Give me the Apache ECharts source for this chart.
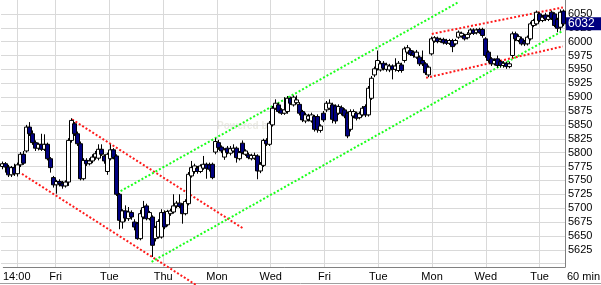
<!DOCTYPE html>
<html><head><meta charset="utf-8">
<script src="https://cdn.jsdelivr.net/npm/echarts@6/dist/echarts.min.js"></script>
<style>html,body{margin:0;padding:0;background:#fff}#c{width:601px;height:285px}</style>
</head><body><div id="c"></div>
<script>
// ---- data (hourly bars) ----
const opens = [5775,5780,5774,5760,5773,5762,5778,5797,5803,5846,5834,5818,5808,5815,5806,5815,5789,5755,5742,5748,5744,5740,5747,5822,5852,5834,5816,5753,5786,5780,5785,5792,5790,5806,5794,5766,5789,5805,5794,5725,5675,5695,5681,5692,5675,5672,5645,5684,5704,5681,5684,5645,5648,5648,5692,5670,5690,5693,5704,5709,5706,5690,5708,5758,5766,5772,5766,5772,5779,5778,5779,5801,5818,5810,5792,5808,5799,5803,5808,5789,5817,5797,5796,5789,5790,5794,5767,5777,5822,5815,5850,5880,5886,5877,5871,5874,5898,5886,5890,5887,5874,5857,5860,5857,5865,5865,5840,5871,5877,5880,5886,5884,5871,5881,5877,5871,5842,5866,5871,5863,5868,5883,5868,5898,5940,5951,5949,5961,5950,5949,5956,5950,5948,5958,5966,5981,5984,5981,5972,5972,5966,5960,5940,5978,6001,6006,6001,6004,6002,5997,6002,5996,6008,6010,6011,6007,6015,6021,6016,6022,6022,6005,5981,5969,5960,5969,5964,5957,5961,5955,5975,6014,6002,6005,6000,5996,6005,6029,6032,6050,6038,6048,6040,6053,6050,6040,6026,6055];
const closes = [5780,5774,5760,5773,5762,5778,5797,5781,5846,5834,5818,5808,5815,5806,5815,5789,5773,5742,5748,5744,5740,5747,5822,5858,5834,5816,5753,5786,5780,5785,5792,5798,5806,5797,5785,5797,5805,5791,5725,5678,5695,5682,5693,5684,5666,5645,5690,5701,5681,5692,5633,5665,5676,5692,5666,5694,5695,5704,5709,5703,5690,5712,5761,5773,5776,5766,5776,5779,5772,5770,5755,5820,5809,5803,5805,5800,5807,5808,5791,5800,5800,5803,5791,5795,5795,5767,5779,5822,5816,5853,5880,5889,5874,5871,5877,5898,5889,5900,5895,5871,5859,5868,5866,5868,5842,5841,5848,5859,5889,5889,5860,5857,5883,5871,5866,5830,5874,5874,5862,5870,5880,5868,5916,5934,5951,5966,5960,5952,5958,5956,5950,5956,5961,5948,5987,5989,5977,5975,5981,5960,5960,5944,5954,6005,6007,6000,6004,5998,5997,6002,5991,6002,6017,6015,6005,6013,6021,6015,6021,6017,6011,5975,5966,5960,5966,5957,5957,5961,5955,5960,6014,6005,6009,5996,5996,6008,6032,6038,6053,6038,6044,6041,6045,6042,6029,6024,6053,6032];
const lows = [5770,5764,5756,5756,5758,5757,5774,5778,5800,5830,5814,5803,5804,5803,5803,5786,5764,5737,5726,5739,5735,5737,5740,5818,5830,5812,5750,5750,5776,5777,5781,5787,5786,5794,5780,5760,5786,5788,5722,5662,5663,5676,5677,5679,5660,5643,5642,5680,5678,5678,5612,5640,5645,5645,5662,5667,5686,5690,5700,5700,5672,5687,5705,5755,5762,5762,5763,5769,5753,5766,5752,5797,5805,5799,5787,5797,5795,5800,5782,5786,5797,5794,5788,5786,5787,5752,5763,5774,5812,5812,5847,5877,5871,5868,5868,5870,5886,5883,5887,5867,5855,5853,5856,5854,5838,5836,5836,5855,5873,5877,5853,5852,5868,5867,5862,5826,5838,5862,5858,5860,5865,5864,5865,5895,5936,5948,5946,5948,5946,5945,5932,5946,5945,5944,5962,5978,5974,5971,5969,5956,5956,5940,5936,5975,5998,5997,5998,5995,5994,5994,5981,5993,6005,6007,6002,6004,6012,6012,6013,6014,6007,5971,5962,5956,5957,5953,5953,5953,5951,5952,5971,6001,5999,5993,5992,5993,6002,6026,6029,6035,6035,6037,6037,6039,6026,6017,6020,6028];
const highs = [5784,5783,5778,5776,5780,5782,5801,5803,5850,5855,5840,5822,5818,5834,5833,5818,5792,5758,5751,5752,5749,5750,5826,5862,5855,5838,5820,5790,5790,5790,5797,5803,5815,5815,5797,5800,5815,5808,5797,5727,5698,5705,5702,5696,5680,5675,5697,5713,5708,5695,5687,5668,5680,5698,5696,5697,5699,5725,5713,5725,5709,5716,5765,5785,5780,5776,5779,5794,5782,5782,5782,5826,5823,5813,5808,5812,5812,5815,5811,5803,5822,5806,5800,5798,5800,5797,5783,5825,5826,5857,5884,5896,5890,5880,5900,5902,5901,5903,5903,5891,5877,5872,5870,5872,5868,5869,5851,5875,5893,5896,5890,5887,5887,5885,5880,5874,5878,5878,5874,5874,5884,5887,5920,5938,5955,5984,5965,5965,5962,5960,5959,5970,5965,5962,5991,5994,5988,5984,5985,5975,5984,5963,5957,6009,6010,6009,6007,6007,6005,6005,6005,6005,6020,6018,6014,6017,6024,6024,6024,6025,6025,6008,5984,5972,5970,5975,5967,5965,5964,5964,6018,6018,6013,6009,6003,6011,6036,6041,6056,6053,6048,6052,6048,6056,6053,6043,6058,6058];

// x-axis tick labels and the bar index they sit on
const tickIndex  = [4, 17, 35, 53, 71, 89, 107, 125, 143, 161, 179];
const tickLabels = ['14:00','Fri','Tue','Thu','Mon','Wed','Fri','Tue','Mon','Wed','Tue'];
const periodLabel = '60 min';

// trend lines: [barIndex, price] endpoints
const redLowerLeft  = [[6.5, 5761.6], [64.5, 5561.6]];
const redUpperLeft  = [[23.2, 5859.8], [80.2, 5663.4]];
const greenUpper    = [[38.2, 5727.1], [151.8, 6070.5]];
const greenLower    = [[49.7, 5603.2], [186.9, 6020.0]];
const redUpperRight = [[143.1, 6013.9], [186.8, 6061.6]];
const redLowerRight = [[141.2, 5934.8], [186.8, 5991.4]];

// ---- chart ----
const N = opens.length;
const cats = opens.map((_, i) => 'b' + i);
const tickSet = new Set(tickIndex);
const candles = opens.map((o, i) => [o, closes[i], lows[i], highs[i]]);
const lastClose = closes[N - 1];

const FONT = 'Liberation Sans, Arial, sans-serif';

function trend(data, color) {
  return {
    type: 'line', xAxisIndex: 2, yAxisIndex: 0, data: data,
    symbol: 'none', clip: false, silent: true, z: 3,
    lineStyle: { color: color, width: 2, type: [2, 2] }
  };
}

const chart = echarts.init(document.getElementById('c'), null, { renderer: 'canvas' });
chart.setOption({
  animation: false,
  backgroundColor: '#ffffff',
  grid: [
    { left: 1, right: 36, top: -2.5, height: 280, containLabel: false },
    { left: 1, right: 36, top: 0, height: 267, containLabel: false }
  ],
  xAxis: [
    { gridIndex: 0, type: 'category', data: cats, boundaryGap: true, show: false },
    {
      gridIndex: 1, type: 'category', data: cats, boundaryGap: true,
      axisLine: { show: true, onZero: false, lineStyle: { color: '#808080', width: 1 } },
      axisTick: { show: false, alignWithLabel: true },
      axisLabel: {
        interval: (idx) => tickSet.has(idx),
        formatter: (v, idx) => { const k = tickIndex.indexOf(idx); return k >= 0 ? tickLabels[k] : ''; },
        color: '#000', fontSize: 11, fontFamily: FONT, margin: 4
      },
      splitLine: {
        show: true, alignWithLabel: true,
        interval: (idx) => tickSet.has(idx),
        lineStyle: { color: '#d9d9d9', width: 1 }
      }
    },
    { gridIndex: 0, type: 'value', min: -0.5, max: N - 0.5, show: false }
  ],
  yAxis: [
    {
      gridIndex: 0, type: 'value', position: 'right', min: 5575, max: 6075, interval: 25,
      axisLine: { show: false }, axisTick: { show: false },
      axisLabel: {
        formatter: (v) => (v < 5625 || v > 6050) ? '' : String(v),
        color: '#000', fontSize: 11, fontFamily: FONT, margin: 3
      },
      splitLine: { show: true, showMinLine: false, showMaxLine: false, lineStyle: { color: '#d9d9d9', width: 1 } }
    },
    {
      gridIndex: 1, type: 'value', position: 'right', min: 0, max: 1,
      axisLine: { show: true, lineStyle: { color: '#808080', width: 1 } },
      axisTick: { show: false }, axisLabel: { show: false }, splitLine: { show: false }
    }
  ],
  graphic: [
    { type: 'text', left: 567, top: 271, style: { text: periodLabel, fill: '#000', font: '11px ' + FONT } },
    { type: 'line', shape: { x1: 0, y1: 283.5, x2: 601, y2: 283.5 }, style: { stroke: '#a0a0a0', lineWidth: 1 } },
    { type: 'text', left: 217, top: 121, z: -1, style: { text: 'Powered by', fill: '#ecece4', font: 'bold 10px ' + FONT } }
  ],
  series: [
    {
      type: 'candlestick', xAxisIndex: 0, yAxisIndex: 0, data: candles,
      barWidth: 4, z: 4,
      itemStyle: { color: '#ffffff', color0: '#000080', borderColor: '#000000', borderColor0: '#000000', borderWidth: 1 },
      markLine: {
        silent: true, symbol: 'none', animation: false,
        data: [{ yAxis: lastClose }],
        lineStyle: { color: 'rgba(0,0,0,0)', width: 0 },
        label: {
          show: true, position: 'end', distance: 1,
          formatter: () => String(lastClose),
          backgroundColor: '#000080', color: '#ffffff',
          fontSize: 12, fontFamily: FONT, padding: [1, 8, 0, 2]
        }
      }
    },
    trend(redLowerLeft, '#ff1a1a'),
    trend(redUpperLeft, '#ff1a1a'),
    trend(greenUpper, '#1aff1a'),
    trend(greenLower, '#1aff1a'),
    trend(redUpperRight, '#ff1a1a'),
    trend(redLowerRight, '#ff1a1a')
  ]
});
</script>
</body></html>
